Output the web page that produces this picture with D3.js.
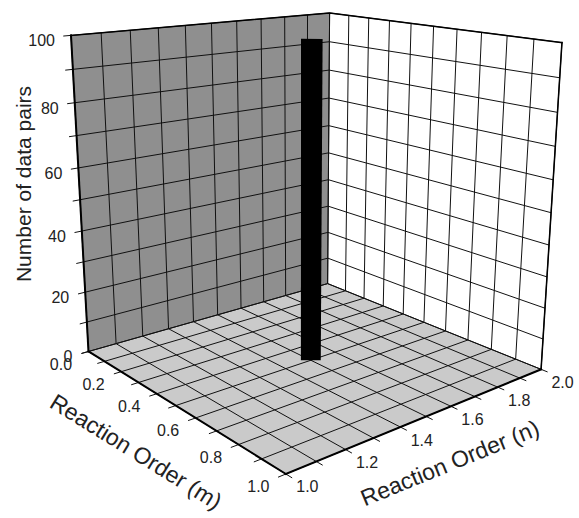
<!DOCTYPE html>
<html>
<head>
<meta charset="utf-8">
<script src="https://cdn.jsdelivr.net/npm/d3@7"></script>
<style>
body { margin: 0; background: #fff; }
text { font-family: "Liberation Sans", Arial, Helvetica, sans-serif; fill: #222; }
</style>
</head>
<body>
<svg id="chart" width="579" height="518"></svg>
<script>
// tick labels on the three axes
var mTicks = [0.0, 0.2, 0.4, 0.6, 0.8, 1.0];
var nTicks = [1.0, 1.2, 1.4, 1.6, 1.8, 2.0];
var zTicks = [0, 20, 40, 60, 80, 100];

// the only non-empty cell of the histogram
var barM = [0.5];
var barN = [1.5];
var barCount = [100];

var svg = d3.select("#chart");

var x = d3.scaleLinear().domain([1, 2]).range([0, 1]);   // n
var y = d3.scaleLinear().domain([0, 1]).range([0, 1]);   // m
var z = d3.scaleLinear().domain([0, 100]).range([0, 1]); // count

// perspective camera looking down on the box
var cam = {
    alpha: 0.6970,   // turn about the vertical
    phi: 0.2757,     // tilt down
    dist: 3.3463,
    focal: 1117.37,
    cx: 311.3, cy: 206.1,
    ly: 1.0023, lz: 0.9985,
    roll: -0.0031
};

function project(n, m, c) {
    var X = x(n) - 0.5, Y = (y(m) - 0.5) * cam.ly, Z = (z(c) - 0.5) * cam.lz;
    var ca = Math.cos(cam.alpha), sa = Math.sin(cam.alpha);
    var cp = Math.cos(cam.phi), sp = Math.sin(cam.phi);
    var r = X * ca + Y * sa, d = X * sa - Y * ca;
    var u = Z * cp + d * sp, q = d * cp - Z * sp;
    var k = cam.focal / (cam.dist + q);
    var px = r * k, py = u * k;
    var cr = Math.cos(cam.roll), sr = Math.sin(cam.roll);
    return [cam.cx + px * cr - py * sr, cam.cy - (px * sr + py * cr)];
}

var line = d3.line();
function seg(a, b) { return line([project.apply(null, a), project.apply(null, b)]); }
function poly(list) { return line(list.map(function(p) { return project.apply(null, p); })) + "Z"; }

var step = d3.range(0, 11).map(function(i) { return i / 10; });
var nGrid = step.map(function(v) { return 1 + v; });
var mGrid = step;
var zGrid = d3.range(0, 101, 10);
var tickLen = 0.025;

// panes
svg.append("path").attr("d", poly([[1,0,0],[2,0,0],[2,0,100],[1,0,100]])).attr("fill", "#8f8f8f");
svg.append("path").attr("d", poly([[2,0,0],[2,1,0],[2,1,100],[2,0,100]])).attr("fill", "#ffffff");
svg.append("path").attr("d", poly([[1,0,0],[2,0,0],[2,1,0],[1,1,0]])).attr("fill", "#cacaca");

var grid = svg.append("g").attr("stroke", "#111").attr("stroke-width", 1).attr("fill", "none");
// left wall (m = 0)
nGrid.forEach(function(n) { grid.append("path").attr("d", seg([n,0,0],[n,0,100])); });
zGrid.forEach(function(c) { grid.append("path").attr("d", seg([1 - tickLen,0,c],[2,0,c])); });
// right wall (n = 2)
mGrid.forEach(function(m) { grid.append("path").attr("d", seg([2,m,0],[2,m,100])); });
zGrid.forEach(function(c) { grid.append("path").attr("d", seg([2,0,c],[2,1,c])); });
// floor, lines run past the front edges as ticks
mGrid.forEach(function(m) { grid.append("path").attr("d", seg([1 - tickLen,m,0],[2,m,0])); });
nGrid.forEach(function(n) { grid.append("path").attr("d", seg([n,0,0],[n,1 + tickLen,0])); });

// frame edges
var edges = svg.append("g").attr("stroke", "#000").attr("fill", "none").attr("stroke-linecap", "square");
edges.append("path").attr("d", seg([1,0,0],[1,0,100])).attr("stroke-width", 2);
edges.append("path").attr("d", seg([1,0,0],[1,1,0])).attr("stroke-width", 2);
edges.append("path").attr("d", seg([1,1,0],[2,1,0])).attr("stroke-width", 2);
edges.append("path").attr("d", line([project(1,0,100), project(2,0,100), project(2,1,100)])).attr("stroke-width", 1.5);
edges.append("path").attr("d", seg([2,1,0],[2,1,100])).attr("stroke-width", 1.5);

// tick labels
var fmt = d3.format(".1f");
svg.append("g").selectAll("text").data(zTicks).join("text")
    .attr("x", function(d) { return project(1, 0, d)[0] - 16; })
    .attr("y", function(d) { return project(1, 0, d)[1] + 5.5; })
    .attr("text-anchor", "end").attr("dominant-baseline", "central")
    .attr("font-size", 16).text(function(d) { return d; });
svg.append("g").selectAll("text").data(mTicks).join("text")
    .attr("x", function(d) { return project(1, d, 0)[0] - 27.5; })
    .attr("y", function(d) { return project(1, d, 0)[1] + 13; })
    .attr("text-anchor", "middle").attr("dominant-baseline", "central")
    .attr("font-size", 16).text(fmt);
svg.append("g").selectAll("text").data(nTicks).join("text")
    .attr("x", function(d) { return project(d, 1, 0)[0] + 21.5; })
    .attr("y", function(d) { return project(d, 1, 0)[1] + 13; })
    .attr("text-anchor", "middle").attr("dominant-baseline", "central")
    .attr("font-size", 16).text(fmt);

// axis titles laid along the floor edges
function edgeTitle(a, b, along, perp, label) {
    var pa = project.apply(null, a), pb = project.apply(null, b);
    var th = Math.atan2(pb[1] - pa[1], pb[0] - pa[0]);
    var mx = (pa[0] + pb[0]) / 2 + along * Math.cos(th) - perp * Math.sin(th);
    var my = (pa[1] + pb[1]) / 2 + along * Math.sin(th) + perp * Math.cos(th);
    svg.append("text").attr("transform", "translate(" + mx + "," + my + ") rotate(" + th * 180 / Math.PI + ")")
        .attr("text-anchor", "middle").attr("dominant-baseline", "central")
        .attr("font-size", 23).text(label);
}
edgeTitle([1,0,0], [1,1,0], -23, 60, "Reaction Order (m)");
edgeTitle([1,1,0], [2,1,0], 18, 52, "Reaction Order (n)");
svg.append("text").attr("transform", "translate(23,184) rotate(-90)")
    .attr("text-anchor", "middle").attr("dominant-baseline", "central")
    .attr("font-size", 21).text("Number of data pairs");

// the bar, a column facing the viewer
var hw = 0.031;
barN.forEach(function(n, i) {
    var m = barM[i], c = barCount[i];
    var dn = hw * Math.cos(cam.alpha), dm = hw * Math.sin(cam.alpha) / cam.ly;
    svg.append("path").attr("fill", "#000")
        .attr("d", poly([[n - dn, m - dm, 0], [n + dn, m + dm, 0], [n + dn, m + dm, c], [n - dn, m - dm, c]]));
});
</script>
</body>
</html>
